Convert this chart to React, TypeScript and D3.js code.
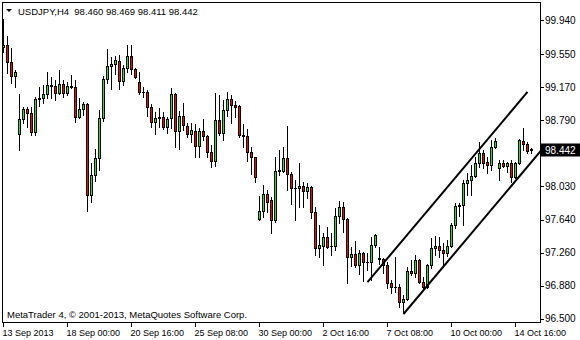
import React from 'react';
import * as d3 from 'd3';

const symbol = 'USDJPY,H4';
const copyright = 'MetaTrader 4, \u00A9 2001-2013, MetaQuotes Software Corp.';

const opens = [
  99.634, 99.657, 99.461, 99.299, 98.630, 98.803, 98.919, 98.873, 98.653, 99.034,
  99.046, 99.092, 99.196, 99.184, 99.103, 99.207, 99.103, 99.184, 99.173, 98.826,
  98.919, 98.976, 97.927, 98.158, 98.354, 98.815, 99.265, 99.415, 99.438, 99.472,
  99.242, 99.392, 99.530, 99.380, 99.230, 99.115, 99.115, 98.942, 98.769, 98.815,
  98.826, 98.711, 98.815, 99.092, 98.665, 98.838, 98.723, 98.630, 98.665, 98.492,
  98.665, 98.607, 98.423, 98.319, 98.792, 98.642, 98.907, 99.034, 98.965, 98.953,
  98.619, 98.607, 98.423, 98.365, 97.650, 97.742, 97.938, 97.869, 97.639, 98.204,
  98.204, 98.354, 98.169, 98.008, 98.004, 98.031, 97.973, 98.019, 97.731, 97.316,
  97.339, 97.442, 97.339, 97.335, 97.685, 97.789, 97.650, 97.212, 97.246, 97.120,
  97.258, 97.154, 97.150, 97.350, 97.200, 97.189, 97.120, 96.912, 96.866, 96.870,
  96.693, 96.727, 97.050, 97.027, 97.177, 96.923, 96.866, 97.120, 97.316, 97.339,
  97.293, 97.258, 97.339, 97.581, 97.800, 97.812, 98.065, 98.100, 98.146, 98.296,
  98.411, 98.308, 98.273, 98.481, 98.238, 98.296, 98.261, 98.296, 98.135, 98.296,
  98.550, 98.515, 98.460,
];
const highs = [
  99.957, 99.761, 99.622, 99.369, 99.092, 98.942, 98.942, 98.942, 99.057, 99.173,
  99.196, 99.346, 99.288, 99.253, 99.369, 99.253, 99.230, 99.311, 99.253, 99.046,
  98.999, 98.988, 98.296, 98.457, 98.907, 99.299, 99.611, 99.519, 99.530, 99.542,
  99.426, 99.657, 99.657, 99.392, 99.346, 99.173, 99.138, 98.976, 98.884, 98.930,
  98.884, 98.826, 99.161, 99.103, 98.896, 98.988, 98.757, 98.757, 98.746, 98.700,
  98.803, 98.619, 98.504, 99.103, 99.080, 99.023, 99.115, 99.080, 99.011, 98.965,
  98.746, 98.688, 98.481, 98.370, 97.915, 98.042, 97.985, 97.904, 98.365, 98.446,
  98.481, 98.723, 98.192, 98.100, 98.296, 98.077, 98.065, 98.031, 97.789, 97.581,
  97.489, 97.558, 97.489, 97.777, 97.858, 97.846, 97.662, 97.327, 97.396, 97.293,
  97.265, 97.258, 97.442, 97.477, 97.327, 97.200, 97.154, 96.947, 97.212, 96.900,
  96.774, 97.096, 97.177, 97.235, 97.189, 96.981, 97.131, 97.431, 97.454, 97.442,
  97.373, 97.408, 97.604, 97.835, 97.835, 98.100, 98.181, 98.273, 98.365, 98.538,
  98.446, 98.365, 98.561, 98.584, 98.331, 98.331, 98.308, 98.331, 98.308, 98.573,
  98.700, 98.538, 98.469,
];
const lows = [
  99.576, 99.334, 99.219, 99.173, 98.446, 98.757, 98.711, 98.619, 98.619, 98.953,
  98.988, 99.046, 99.046, 99.023, 99.092, 99.057, 99.080, 99.161, 98.769, 98.815,
  98.850, 97.742, 97.846, 98.088, 98.215, 98.780, 99.219, 99.150, 99.323, 99.150,
  99.196, 99.346, 99.323, 99.276, 99.092, 99.057, 98.838, 98.711, 98.630, 98.711,
  98.688, 98.642, 98.700, 98.481, 98.457, 98.677, 98.596, 98.538, 98.365, 98.365,
  98.561, 98.365, 98.250, 98.261, 98.619, 98.561, 98.838, 98.757, 98.826, 98.596,
  98.481, 98.319, 98.169, 98.077, 97.639, 97.673, 97.731, 97.489, 97.616, 98.158,
  98.192, 97.985, 97.823, 97.639, 97.789, 97.789, 97.892, 97.662, 97.235, 97.212,
  97.120, 97.316, 97.235, 97.293, 97.604, 97.500, 96.912, 97.108, 97.096, 97.016,
  96.935, 97.062, 96.947, 97.327, 97.131, 97.027, 96.854, 96.797, 96.808, 96.635,
  96.577, 96.716, 97.004, 96.981, 96.912, 96.854, 96.854, 97.085, 97.235, 97.212,
  97.096, 97.223, 97.327, 97.546, 97.685, 97.581, 97.927, 97.927, 98.135, 98.250,
  98.238, 98.181, 98.215, 98.469, 98.100, 98.250, 98.192, 98.077, 98.123, 98.290,
  98.446, 98.411, 98.411,
];
const closes = [
  99.657, 99.461, 99.299, 99.346, 98.803, 98.919, 98.873, 98.653, 99.034, 99.046,
  99.092, 99.196, 99.184, 99.103, 99.207, 99.103, 99.184, 99.173, 98.826, 98.919,
  98.976, 97.927, 98.158, 98.354, 98.815, 99.265, 99.415, 99.438, 99.484, 99.242,
  99.392, 99.530, 99.380, 99.288, 99.115, 99.110, 98.942, 98.769, 98.815, 98.826,
  98.711, 98.803, 99.092, 98.665, 98.838, 98.734, 98.630, 98.677, 98.492, 98.665,
  98.607, 98.423, 98.319, 98.792, 98.642, 98.907, 99.034, 98.965, 98.942, 98.619,
  98.607, 98.423, 98.365, 98.135, 97.742, 97.938, 97.846, 97.639, 98.204, 98.215,
  98.354, 98.169, 98.008, 98.004, 98.031, 97.973, 98.019, 97.731, 97.316, 97.350,
  97.442, 97.327, 97.335, 97.685, 97.789, 97.650, 97.212, 97.246, 97.120, 97.258,
  97.154, 97.150, 97.350, 97.466, 97.189, 97.120, 96.912, 96.866, 96.860, 96.693,
  96.727, 97.050, 97.027, 97.177, 96.923, 96.866, 97.120, 97.316, 97.339, 97.293,
  97.258, 97.339, 97.581, 97.800, 97.812, 98.065, 98.100, 98.146, 98.296, 98.411,
  98.296, 98.273, 98.481, 98.550, 98.296, 98.261, 98.296, 98.135, 98.296, 98.561,
  98.515, 98.438, 98.442,
];

const priceTicks = [99.94, 99.55, 99.17, 98.79, 98.41, 98.03, 97.64, 97.26, 96.88, 96.5];
const dateTickBars = [0, 16, 32, 48, 64, 80, 96, 112, 128];
const dateTickLabels = [
  '13 Sep 2013', '18 Sep 00:00', '20 Sep 16:00', '25 Sep 08:00', '30 Sep 00:00',
  '2 Oct 16:00', '7 Oct 08:00', '10 Oct 00:00', '14 Oct 16:00',
];

// trend channel anchors: [bar index, price]
const channelUpper = [[91, 96.923], [131, 99.115]];
const channelLower = [[100, 96.554], [134.375, 98.438]];

const BULL = '#00FF00';
const BEAR = '#FF0000';
const FONT = '"Liberation Sans", Arial, sans-serif';

export default function App() {
  const n = opens.length;
  const x = d3.scaleLinear().domain([0, n - 1]).range([3.5, 3.5 + 4 * (n - 1)]);
  const y = d3.scaleLinear().domain([96.5, 99.94]).range([318.7, 20.45]);
  const line = d3.line<number[]>().x((d) => x(d[0])).y((d) => y(d[1]));

  const left = 2, top = 2, right = 540, bottom = 322;
  const last = n - 1;
  const lastClose = closes[last];
  const title = `${symbol}  ${opens[last].toFixed(3)} ${highs[last].toFixed(3)} ${lows[last].toFixed(3)} ${closes[last].toFixed(3)}`;

  const candles = opens.map((o, i) => {
    const c = closes[i];
    const cx = x(i);
    const yH = Math.round(y(highs[i]));
    const yL = Math.round(y(lows[i]));
    const yT = Math.round(y(Math.max(o, c)));
    const yB = Math.round(y(Math.min(o, c)));
    const bull = c >= o;
    return (
      <g key={i}>
        <line x1={cx} x2={cx} y1={yH} y2={yL + 1} stroke="#000" strokeWidth={1} />
        {yB - yT < 1 ? (
          <line x1={cx - 1.5} x2={cx + 1.5} y1={yT + 0.5} y2={yT + 0.5} stroke="#000" strokeWidth={1} />
        ) : (
          <rect x={cx - 1} y={yT + 0.5} width={2} height={yB - yT} fill={bull ? BULL : BEAR} stroke="#000" strokeWidth={1} />
        )}
      </g>
    );
  });

  const yLast = y(lastClose);
  const visibleTicks = priceTicks.filter((p) => Math.abs(y(p) - yLast) > 10);

  return (
    <div>
      <style>{`body{margin:0;background:#fff}`}</style>
      <svg width={580} height={340} style={{ display: 'block', background: '#fff' }} fontFamily={FONT}>
        <rect x={0} y={0} width={580} height={340} fill="#fff" />
        <g shapeRendering="crispEdges">{candles}</g>
        <path d={line(channelUpper) || ''} stroke="#000" strokeWidth={2} fill="none" />
        <path d={line(channelLower) || ''} stroke="#000" strokeWidth={2} fill="none" />
        <rect x={left + 0.5} y={top + 0.5} width={right - left} height={bottom - top} fill="none" stroke="#000" strokeWidth={1} shapeRendering="crispEdges" />
        {/* price axis */}
        {visibleTicks.map((p) => (
          <g key={p}>
            <line x1={right} x2={right + 4} y1={Math.round(y(p)) + 0.5} y2={Math.round(y(p)) + 0.5} stroke="#000" shapeRendering="crispEdges" />
            <text x={545} y={y(p) + 3.5} fontSize={10} fill="#000">{p.toFixed(3)}</text>
          </g>
        ))}
        <rect x={541} y={Math.round(yLast) - 6.5} width={39} height={13} fill="#000" />
        <text x={545} y={yLast + 3.5} fontSize={10} fill="#fff">{lastClose.toFixed(3)}</text>
        {/* time axis */}
        {dateTickBars.map((b, k) => (
          <g key={b}>
            <line x1={x(b)} x2={x(b)} y1={bottom} y2={bottom + 5} stroke="#000" shapeRendering="crispEdges" />
            <text x={x(b) - 1} y={335.5} fontSize={9} fill="#000">{dateTickLabels[k]}</text>
          </g>
        ))}
        {/* header */}
        <path d="M6,9 L12,9 L9,12 Z" fill="#000" />
        <text x={18} y={15} fontSize={9.5} fill="#000" style={{ whiteSpace: 'pre' }}>{title}</text>
        <text x={7} y={318} fontSize={9.5} fill="#000">{copyright}</text>
      </svg>
    </div>
  );
}
